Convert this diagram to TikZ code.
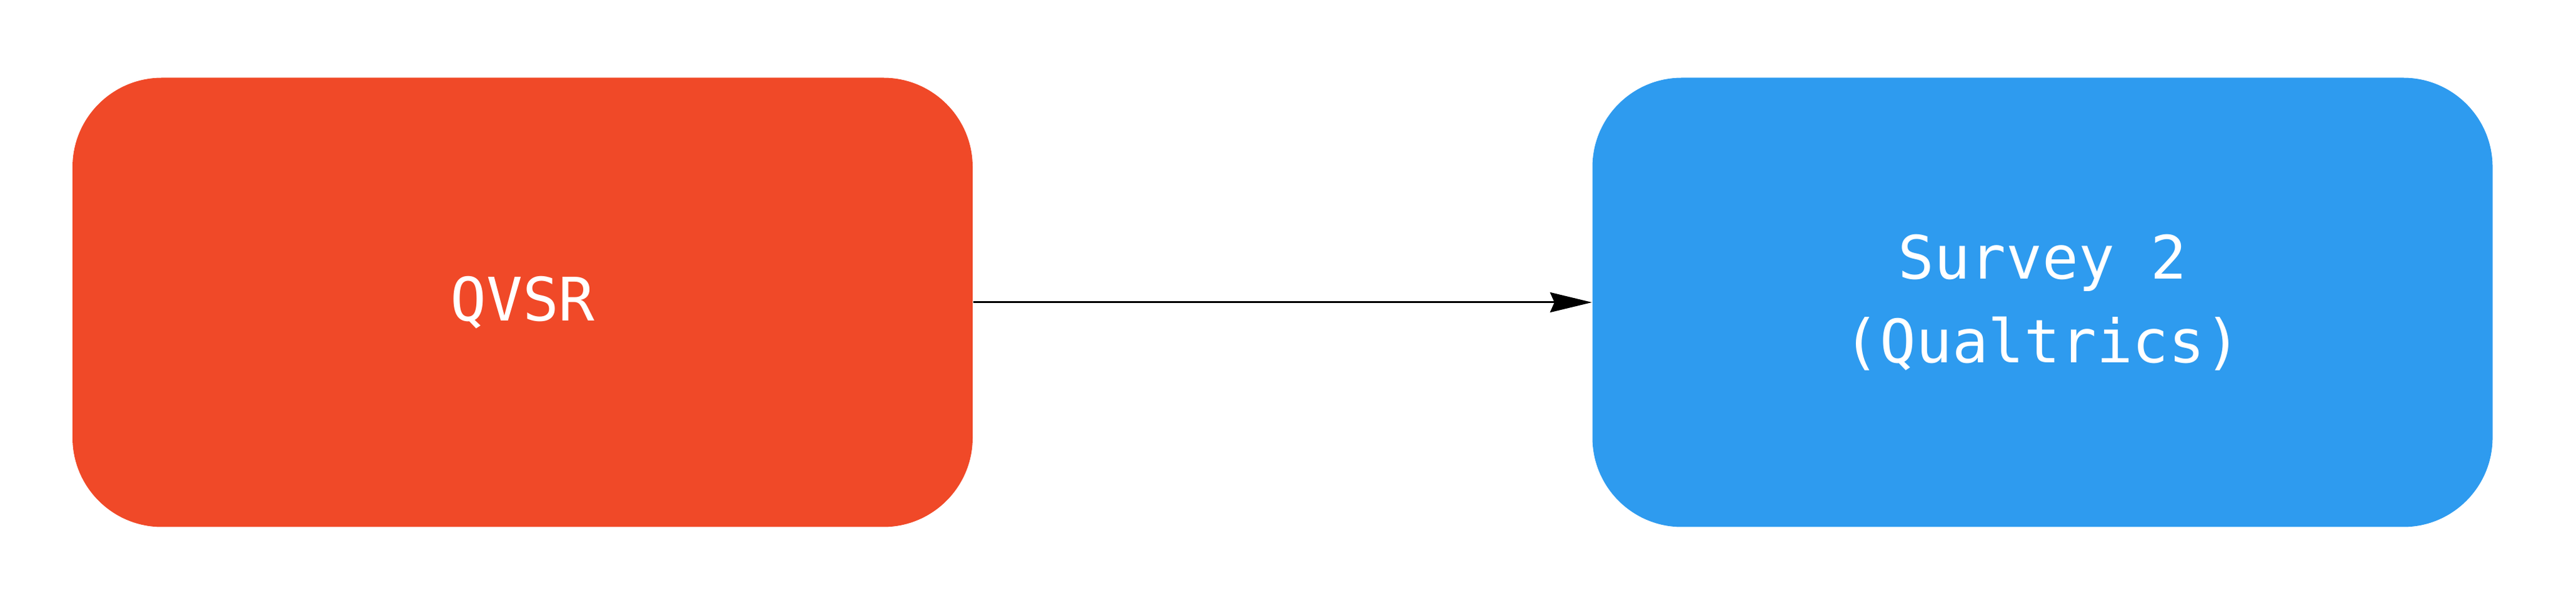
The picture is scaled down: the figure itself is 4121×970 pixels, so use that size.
\documentclass[tikz,border=0pt]{standalone}
\usepackage{fontspec}
\newfontfamily\monof{DejaVu Sans Mono}
\usetikzlibrary{arrows.meta}
\definecolor{boxred}{RGB}{240,73,40}
\definecolor{boxblue}{RGB}{46,155,239}
\begin{document}
\begin{tikzpicture}[x=0.25pt,y=-0.25pt,
  boxnode/.style={rectangle, rounded corners=35.75pt, minimum width=360pt, minimum height=179.75pt,
    inner sep=0pt, text=white, align=center, font=\monof\fontsize{24}{33.5}\selectfont},
  conn/.style={line width=0.75pt, -{Stealth[length=16.75pt, width=8pt, inset=1.75pt]}}]
\useasboundingbox (0,0) rectangle (4121,970);
\node[boxnode, fill=boxred] (qvsr) at (836,484) {QVSR};
\node[boxnode, fill=boxblue] (survey) at (3267.5,484) {Survey 2\\(Qualtrics)};
\draw[conn] (qvsr.east) -- (survey.west);
\end{tikzpicture}
\end{document}
